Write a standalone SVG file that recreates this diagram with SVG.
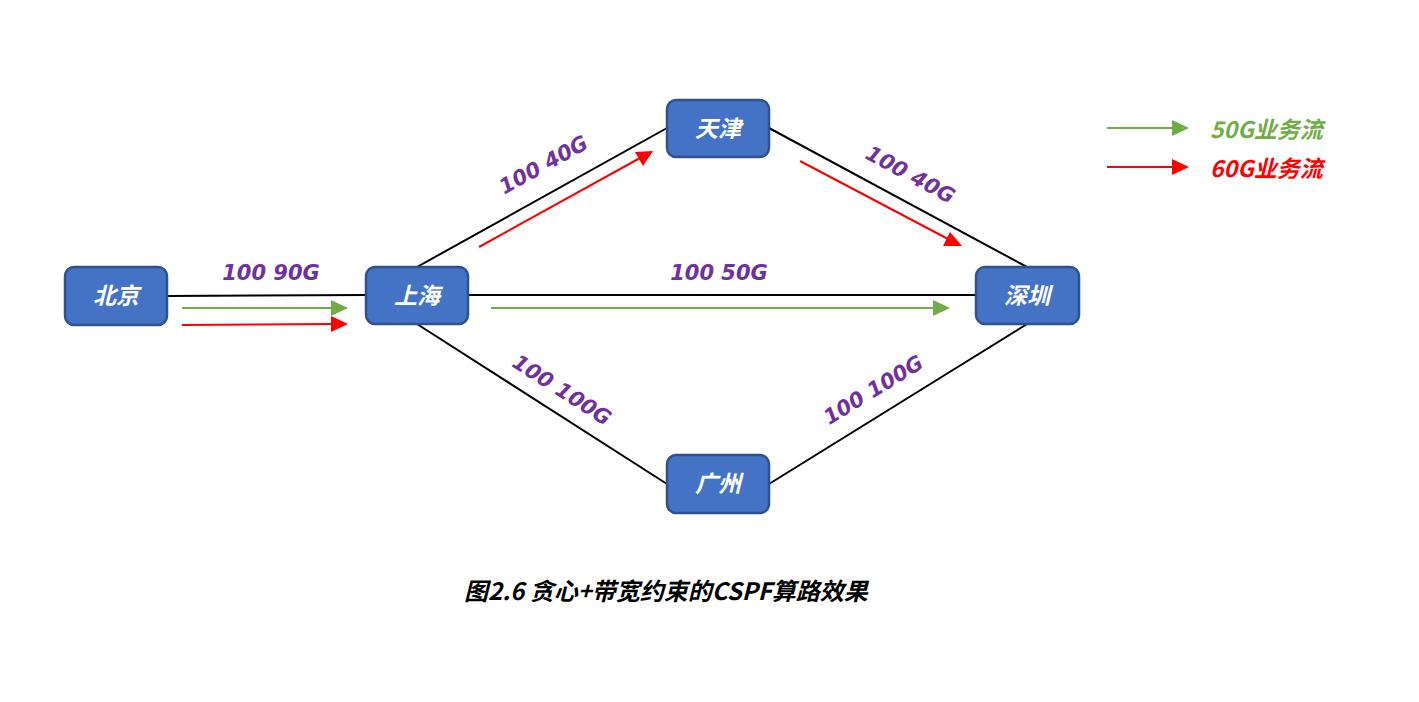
<svg xmlns="http://www.w3.org/2000/svg" width="1419" height="702" viewBox="0 0 1419 702">
<defs>
<style>
.node rect{fill:#4472C4;stroke:#2F528F;stroke-width:2.5}
.node text{fill:#fff;font-family:"Noto Sans CJK SC","Liberation Sans",sans-serif;font-size:23px;font-weight:bold;font-style:italic;text-anchor:middle}
.link{stroke:#000;stroke-width:2;fill:none}
.g{stroke:#70AD47;stroke-width:2;fill:none}
.r{stroke:#FF0000;stroke-width:2;fill:none}
.lbl{fill:#7030A0;font-family:"DejaVu Sans","Liberation Sans",sans-serif;font-size:21px;font-weight:bold;font-style:italic;text-anchor:middle}
.leg{font-family:"Noto Sans CJK SC","Liberation Sans",sans-serif;font-size:23px;font-weight:bold;font-style:italic}
.title{font-family:"Noto Sans CJK SC","Liberation Sans",sans-serif;font-size:24px;font-weight:bold;font-style:italic;fill:#000;text-anchor:middle}
</style>
</defs>
<rect width="1419" height="702" fill="#fff"/>
<g id="connectors">
<line class="link" x1="167" y1="296" x2="366" y2="295"/>
<line class="link" x1="468" y1="295" x2="976" y2="295"/>
<line class="link" x1="417" y1="267" x2="667" y2="128"/>
<line class="link" x1="769" y1="128" x2="1027" y2="267"/>
<line class="link" x1="417" y1="324" x2="667" y2="484"/>
<line class="link" x1="769" y1="484" x2="1027" y2="324"/>
<line class="g" x1="182" y1="308" x2="333" y2="308"/>
<path d="M331,300 L348,308 L331,316 z" fill="#70AD47"/>
<line class="r" x1="182" y1="325" x2="333" y2="324"/>
<path d="M331,316 L348,324 L331,332 z" fill="#FF0000"/>
<line class="g" x1="491" y1="308" x2="935" y2="308"/>
<path d="M933,300 L950,308 L933,316 z" fill="#70AD47"/>
<line class="r" x1="479" y1="247" x2="640" y2="158"/>
<path d="M653,151 L643,166 L635,152 z" fill="#FF0000"/>
<line class="r" x1="800" y1="161" x2="948" y2="239"/>
<path d="M962,246 L943,246 L950,232 z" fill="#FF0000"/>
<line class="g" x1="1107" y1="128" x2="1174" y2="128"/>
<path d="M1172,120 L1189,128 L1172,136 z" fill="#70AD47"/>
<line class="r" x1="1107" y1="167" x2="1174" y2="167"/>
<path d="M1172,159 L1189,167 L1172,175 z" fill="#FF0000"/>
</g>
<g id="labels">
<text class="lbl" x="271" y="280">100 90G</text>
<text class="lbl" x="719" y="280">100 50G</text>
<text class="lbl" transform="translate(547,171) rotate(-29)">100 40G</text>
<text class="lbl" transform="translate(907,181) rotate(28.5)">100 40G</text>
<text class="lbl" transform="translate(558,396) rotate(32.5)">100 100G</text>
<text class="lbl" transform="translate(877,396) rotate(-31.5)">100 100G</text>
</g>
<g id="n-beijing" class="node"><rect x="65" y="267" width="102" height="58" rx="9"/><text x="116" y="304">北京</text></g>
<g id="n-shanghai" class="node"><rect x="366" y="267" width="102" height="57" rx="9"/><text x="417" y="304">上海</text></g>
<g id="n-tianjin" class="node"><rect x="667" y="100" width="102" height="57" rx="9"/><text x="718" y="137">天津</text></g>
<g id="n-shenzhen" class="node"><rect x="976" y="267" width="103" height="57" rx="9"/><text x="1027" y="304">深圳</text></g>
<g id="n-guangzhou" class="node"><rect x="667" y="455" width="102" height="58" rx="9"/><text x="718" y="492">广州</text></g>
<g id="legend">
<text class="leg" x="1210" y="138" fill="#70AD47">50G业务流</text>
<text class="leg" x="1210" y="177" fill="#FF0000">60G业务流</text>
</g>
<text class="title" x="666" y="600">图2.6 贪心+带宽约束的CSPF算路效果</text>
</svg>
